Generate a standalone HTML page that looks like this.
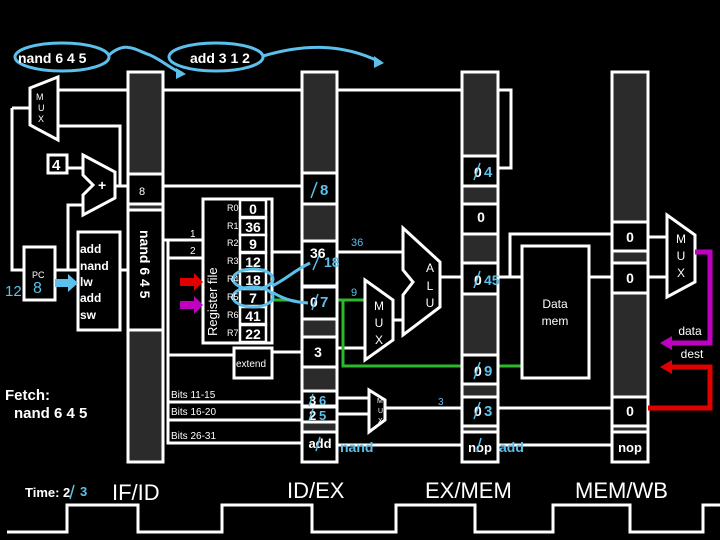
<!DOCTYPE html>
<html><head><meta charset="utf-8"><style>
html,body{margin:0;padding:0;background:#000;}
svg{display:block;}
text{font-family:"Liberation Sans",sans-serif;}
</style></head><body>
<svg width="720" height="540" viewBox="0 0 720 540" xmlns="http://www.w3.org/2000/svg">
<rect width="720" height="540" fill="#000"/>
<g stroke="#fff" stroke-width="3" fill="none">
<!-- wires -->
<polyline points="58,90 511,90 511,168 498,168"/>
<polyline points="12,108 30,108"/>
<polyline points="12,108 12,270 24,270"/>
<polyline points="58,126 120,126 120,186"/>
<line x1="67" y1="168" x2="83" y2="168"/>
<line x1="115" y1="186" x2="128" y2="186"/>
<polyline points="55,270 68,270 68,205 83,205"/>
<line x1="68" y1="270" x2="78" y2="270"/>
<line x1="120" y1="270" x2="128" y2="270"/>
<line x1="163" y1="186" x2="302" y2="186"/>
<line x1="163" y1="240" x2="203" y2="240"/>
<line x1="168" y1="258" x2="203" y2="258"/>
<polyline points="163,240 168,240 168,443 302,443"/>
<line x1="168" y1="355" x2="234" y2="355"/>
<line x1="272" y1="352" x2="302" y2="352"/>
<line x1="168" y1="402" x2="302" y2="402"/>
<line x1="168" y1="420" x2="302" y2="420"/>
<line x1="272" y1="252" x2="302" y2="252"/>
<line x1="337" y1="252" x2="403" y2="252"/>
<line x1="337" y1="348" x2="365" y2="348"/>
<line x1="393" y1="320" x2="403" y2="320"/>
<line x1="440" y1="277" x2="462" y2="277"/>
<line x1="337" y1="398" x2="369" y2="398"/>
<line x1="337" y1="414" x2="369" y2="414"/>
<line x1="385" y1="408" x2="462" y2="408"/>
<line x1="337" y1="445" x2="462" y2="445"/>
<line x1="498" y1="277" x2="522" y2="277"/>
<polyline points="498,277 510,277 510,234 612,234"/>
<line x1="589" y1="277" x2="612" y2="277"/>
<line x1="498" y1="408" x2="612" y2="408"/>
<line x1="498" y1="445" x2="612" y2="445"/>
<line x1="648" y1="237" x2="667" y2="237"/>
<line x1="648" y1="277" x2="667" y2="277"/>
</g>
<!-- green -->
<polyline points="337,300 365,300" stroke="#2db82d" stroke-width="3" fill="none"/>
<polyline points="343,300 343,366 522,366" stroke="#2db82d" stroke-width="3" fill="none"/>
<line x1="273" y1="300" x2="290" y2="300" stroke="#2db82d" stroke-width="3"/>
<!-- pipeline registers -->
<g stroke="#fff" stroke-width="3">
<rect x="128" y="72" width="35" height="390" fill="#2b2b2b"/>
<rect x="302" y="72" width="35" height="390" fill="#2b2b2b"/>
<rect x="462" y="72" width="36" height="390" fill="#2b2b2b"/>
<rect x="612" y="72" width="36" height="390" fill="#2b2b2b"/>
</g>
<g stroke="#fff" stroke-width="3" fill="#000">
<rect x="128" y="174" width="35" height="30"/>
<rect x="128" y="210" width="35" height="120"/>
<rect x="302" y="173" width="35" height="31"/>
<rect x="302" y="241" width="35" height="45"/>
<rect x="302" y="287" width="35" height="32"/>
<rect x="302" y="337" width="35" height="30"/>
<rect x="302" y="391" width="35" height="15"/>
<rect x="302" y="407" width="35" height="15"/>
<rect x="302" y="432" width="35" height="30"/>
<rect x="462" y="156" width="36" height="30"/>
<rect x="462" y="204" width="36" height="30"/>
<rect x="462" y="263" width="36" height="31"/>
<rect x="462" y="355" width="36" height="29"/>
<rect x="462" y="397" width="36" height="29"/>
<rect x="462" y="432" width="36" height="30"/>
<rect x="612" y="222" width="36" height="29"/>
<rect x="612" y="263" width="36" height="30"/>
<rect x="612" y="397" width="36" height="29"/>
<rect x="612" y="432" width="36" height="30"/>
<!-- components -->
<polygon points="30,88 58,77 58,140 30,125"/>
<rect x="48" y="155" width="19" height="18"/>
<polygon points="83,155 115,172 115,198 83,215 83,195 93,185 83,175"/>
<rect x="24" y="247" width="31" height="53"/>
<rect x="78" y="232" width="42" height="98"/>
<rect x="203" y="199" width="69" height="144"/>
<rect x="234" y="348" width="38" height="30"/>
<polygon points="403,228 440,262 440,307 403,335 403,295 413,282 403,270"/>
<polygon points="365,280 393,300 393,340 365,360"/>
<polygon points="369,390 385,400 385,420 369,432"/>
<rect x="522" y="246" width="67" height="132"/>
<polygon points="667,215 695,235 695,282 667,297"/>
</g>
<g stroke="#fff" stroke-width="2.5" fill="#000">
<rect x="240" y="200" width="26" height="17"/><rect x="240" y="218" width="26" height="17"/>
<rect x="240" y="235" width="26" height="17"/><rect x="240" y="253" width="26" height="17"/>
<rect x="240" y="271" width="26" height="17"/><rect x="240" y="289" width="26" height="17"/>
<rect x="240" y="307" width="26" height="17"/><rect x="240" y="325" width="26" height="17"/>
</g>
<!-- purple / red -->
<polyline points="695,252 710,252 710,343 670,343" stroke="#c000c0" stroke-width="5" fill="none"/>
<polygon points="660,343 672,336 672,350" fill="#c000c0"/>
<polyline points="648,408 710,408 710,367 670,367" stroke="#e00000" stroke-width="5" fill="none"/>
<polygon points="660,367 672,360 672,374" fill="#e00000"/>
<polygon points="180,278 194,278 194,273 203,282 194,291 194,286 180,286" fill="#e00000"/>
<polygon points="180,301 194,301 194,296 203,305 194,314 194,309 180,309" fill="#c000c0"/>
<polygon points="55,279 68,279 68,274 78,283 68,292 68,287 55,287" fill="#5bc0eb"/>
<!-- blue annotations -->
<g stroke="#5bc0eb" stroke-width="3" fill="none">
<ellipse cx="62" cy="57" rx="47" ry="14"/>
<ellipse cx="216" cy="57" rx="47" ry="14"/>
<path d="M108,56 C125,40 135,50 150,55 C165,62 172,70 182,73"/>
<path d="M263,56 C300,45 340,42 380,62"/>
<ellipse cx="253" cy="279" rx="20" ry="10"/>
<ellipse cx="253" cy="297" rx="20" ry="10"/>
<path d="M272,286 C285,280 295,270 310,263"/>
<path d="M272,292 C285,300 295,302 308,303"/>
</g>
<g fill="#5bc0eb"><polygon points="176,68 186,74 176,79"/><polygon points="374,56 384,63 374,68"/></g>
<!-- clock -->
<polyline points="7,532 67,532 67,505 138,505 138,532 222,532 222,505 312,505 312,532 396,532 396,505 475,505 475,532 553,532 553,505 630,505 630,532 703,532 703,505 720,505" stroke="#fff" stroke-width="3" fill="none"/>
<!-- text -->
<g fill="#fff" font-weight="bold">
<text x="18" y="63" font-size="14">nand 6 4 5</text>
<text x="190" y="63" font-size="14">add 3 1 2</text>
<text x="52" y="170" font-size="15">4</text>
<text x="98" y="190" font-size="14">+</text>
<g font-size="12"><text x="80" y="253">add</text><text x="80" y="270">nand</text><text x="80" y="286">lw</text><text x="80" y="302">add</text><text x="80" y="319">sw</text></g>
<text x="142" y="195" font-size="11" font-weight="normal" text-anchor="middle">8</text>
<text transform="translate(140,230) rotate(90)" font-size="14">nand 6 4 5</text>
<g font-size="14" text-anchor="middle"><text x="253" y="214">0</text><text x="253" y="232">36</text><text x="253" y="249">9</text><text x="253" y="267">12</text><text x="253" y="285">18</text><text x="253" y="303">7</text><text x="253" y="321">41</text><text x="253" y="339">22</text></g>
<g font-size="14" text-anchor="middle"><text x="318" y="357">3</text><text x="481" y="222">0</text><text x="630" y="242">0</text><text x="630" y="283">0</text><text x="630" y="416">0</text></g>
<text x="320" y="448" font-size="13" text-anchor="middle">add</text>
<text x="480" y="452" font-size="13" text-anchor="middle">nop</text>
<text x="630" y="452" font-size="13" text-anchor="middle">nop</text>
<text x="310" y="258" font-size="14">36</text>
<text x="5" y="400" font-size="15">Fetch:</text>
<text x="14" y="418" font-size="15">nand 6 4 5</text>
<text x="25" y="497" font-size="13">Time: 2</text>
<text x="690" y="335" font-size="12" font-weight="normal" text-anchor="middle">data</text>
<text x="692" y="358" font-size="12" font-weight="normal" text-anchor="middle">dest</text>
</g>
<g fill="#fff" font-size="9">
<text x="36" y="100">M</text><text x="38" y="111">U</text><text x="38" y="122">X</text>
<text x="32" y="278">PC</text>
<text x="227" y="211">R0</text><text x="227" y="229">R1</text><text x="227" y="246">R2</text><text x="227" y="264">R3</text><text x="227" y="282">R4</text><text x="227" y="300">R5</text><text x="227" y="318">R6</text><text x="227" y="336">R7</text>
<text x="236" y="367" font-size="10">extend</text>
<text x="171" y="398" font-size="10">Bits 11-15</text>
<text x="171" y="415" font-size="10">Bits 16-20</text>
<text x="171" y="439" font-size="10">Bits 26-31</text>
<text x="190" y="237" font-size="10">1</text><text x="190" y="254" font-size="10">2</text>
<text transform="translate(217,336) rotate(-90)" font-size="13">Register file</text>
<g font-size="12" text-anchor="middle"><text x="430" y="272">A</text><text x="430" y="290">L</text><text x="430" y="307">U</text>
<text x="379" y="310">M</text><text x="379" y="327">U</text><text x="379" y="344">X</text>
<text x="681" y="243">M</text><text x="681" y="260">U</text><text x="681" y="277">X</text></g>
<text x="377" y="403" font-size="7">M</text><text x="378" y="413" font-size="7">U</text><text x="378" y="423" font-size="7">X</text>
<text x="555" y="308" font-size="12" text-anchor="middle">Data</text>
<text x="555" y="325" font-size="12" text-anchor="middle">mem</text>
</g>
<g fill="#fff" font-size="22">
<text x="112" y="500">IF/ID</text><text x="287" y="498">ID/EX</text><text x="425" y="498">EX/MEM</text><text x="575" y="498">MEM/WB</text>
</g>
<g fill="#5bc0eb" font-weight="bold">
<text x="5" y="296" font-size="15" font-weight="normal">12</text>
<text x="33" y="293" font-size="16" font-weight="normal">8</text>
<text x="80" y="496" font-size="13">3</text>
<text x="320" y="195" font-size="15">8</text>
<text x="324" y="267" font-size="14">18</text>
<text x="320" y="307" font-size="15">7</text>
<text x="319" y="405" font-size="13">6</text>
<text x="319" y="420" font-size="13">5</text>
<text x="484" y="177" font-size="15">4</text>
<text x="484" y="285" font-size="14">45</text>
<text x="484" y="376" font-size="15">9</text>
<text x="484" y="416" font-size="15">3</text>
<text x="340" y="452" font-size="14">nand</text>
<text x="499" y="452" font-size="14">add</text>
<text x="351" y="246" font-size="11" font-weight="normal">36</text>
<text x="351" y="296" font-size="11" font-weight="normal">9</text>
<text x="438" y="405" font-size="10" font-weight="normal">3</text>
</g>
<g fill="#fff" font-weight="bold" font-size="14">
<text x="309" y="405" font-size="13">3</text><text x="309" y="420" font-size="13">2</text>
<text x="310" y="307">0</text><text x="474" y="177">0</text><text x="474" y="285">0</text><text x="474" y="376">0</text><text x="474" y="416">0</text>
</g>
<g stroke="#5bc0eb" stroke-width="1.5">
<line x1="311" y1="198" x2="317" y2="182"/><line x1="313" y1="270" x2="319" y2="256"/>
<line x1="312" y1="310" x2="318" y2="294"/><line x1="309" y1="406" x2="313" y2="394"/>
<line x1="309" y1="421" x2="313" y2="409"/><line x1="316" y1="451" x2="320" y2="437"/>
<line x1="474" y1="180" x2="480" y2="163"/><line x1="474" y1="288" x2="480" y2="271"/>
<line x1="474" y1="379" x2="480" y2="362"/><line x1="474" y1="419" x2="480" y2="402"/>
<line x1="477" y1="452" x2="481" y2="438"/><line x1="70" y1="499" x2="74" y2="485"/>
</g>
</svg>
</body></html>
